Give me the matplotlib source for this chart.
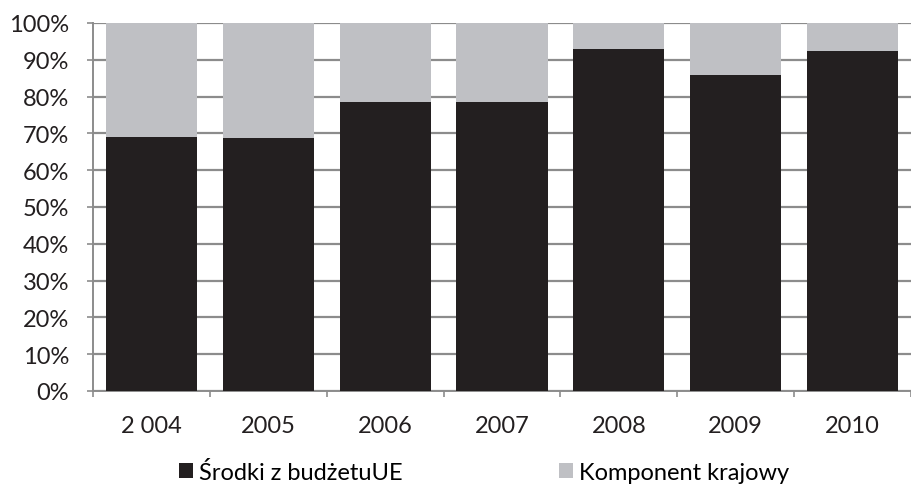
import matplotlib
matplotlib.use("Agg")
import matplotlib.pyplot as plt
from matplotlib.patches import Patch

years = ["2 004", "2005", "2006", "2007", "2008", "2009", "2010"]
eu_share = [69.0, 68.8, 78.5, 78.4, 93.0, 85.9, 92.3]
national_share = [100 - v for v in eu_share]
series_names = ["Środki z budżetuUE", "Komponent krajowy"]
yticks = [0, 10, 20, 30, 40, 50, 60, 70, 80, 90, 100]

plt.rcParams['font.family'] = ['Lato', 'DejaVu Sans']

W, H = 912, 485
fig = plt.figure(figsize=(W / 100, H / 100), dpi=100)
ax = fig.add_axes([93 / W, (H - 392) / H, (911 - 93) / W, (392 - 24) / H])

dark = "#231f20"
light = "#bfc0c4"
grid = "#8c8c8c"
FS = 17

x = list(range(len(years)))
ax.bar(x, eu_share, width=0.78, color=dark, zorder=3)
ax.bar(x, national_share, bottom=eu_share, width=0.78, color=light, zorder=3)

ax.set_xlim(-0.5, len(years) - 0.5)
ax.set_ylim(0, 100)
ax.set_yticks(yticks)
ax.set_yticklabels([f"{v}%" for v in yticks], fontsize=FS, color="#231f20")
ax.yaxis.grid(True, color=grid, linewidth=1.6, zorder=1)
ax.set_axisbelow(True)

ax.set_xticks(x)
ax.set_xticklabels(years, fontsize=FS, color="#231f20")
ax.tick_params(axis='x', length=0, pad=17)
ax.set_xticks([i + 0.5 for i in range(-1, len(years))], minor=True)
ax.tick_params(axis='x', which='minor', length=4.3, color=grid, width=1.2)
ax.tick_params(axis='y', length=4.3, color=grid, width=1.2, pad=13)

for s in ["top", "right"]:
    ax.spines[s].set_visible(False)
for s in ["left", "bottom"]:
    ax.spines[s].set_color(grid)
    ax.spines[s].set_linewidth(1.4)

handles = [Patch(facecolor=dark), Patch(facecolor=light)]
fig.legend(handles, series_names, loc="center", bbox_to_anchor=(484 / W, 1 - 473 / H),
           ncol=2, frameon=False, fontsize=FS, columnspacing=6.6, handlelength=0.6,
           handleheight=0.6, handletextpad=0.25, borderpad=0, borderaxespad=0)

fig.savefig("out.png", dpi=100)
